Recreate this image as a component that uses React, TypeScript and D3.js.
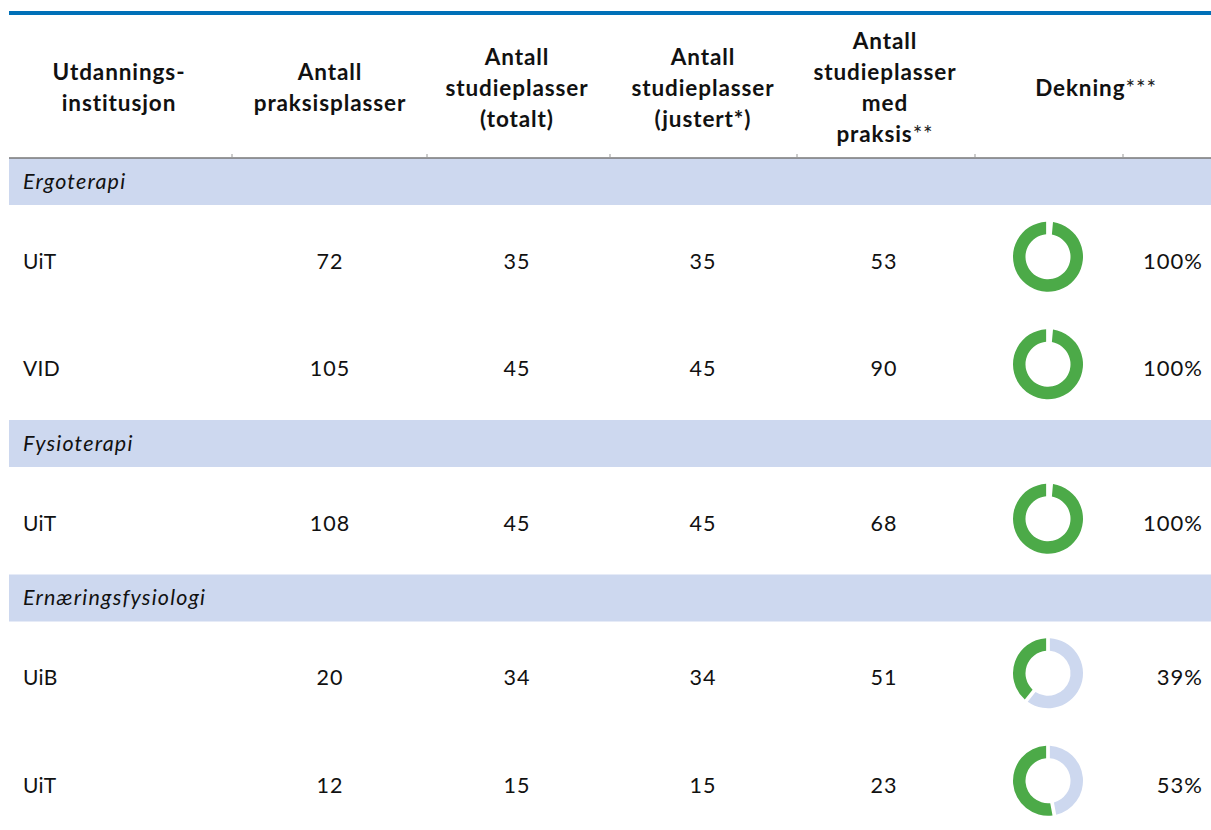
import React from "react";
import * as d3 from "d3";

// ---- data ----
const groups = ["Ergoterapi", "Fysioterapi", "Ernæringsfysiologi"];
const groupOf = [0, 0, 1, 2, 2];
const institutions = ["UiT", "VID", "UiT", "UiB", "UiT"];
const praksisplasser = [72, 105, 108, 20, 12];
const studieTotalt = [35, 45, 45, 34, 15];
const studieJustert = [35, 45, 45, 34, 15];
const studieMedPraksis = [53, 90, 68, 51, 23];
const dekning = [100, 100, 100, 39, 53];

const headers: { lines: string[]; star?: string }[] = [
  { lines: ["Utdannings-", "institusjon"] },
  { lines: ["Antall", "praksisplasser"] },
  { lines: ["Antall", "studieplasser", "(totalt)"] },
  { lines: ["Antall", "studieplasser", "(justert*)"] },
  { lines: ["Antall", "studieplasser", "med", "praksis"], star: "**" },
  { lines: ["Dekning"], star: "***" },
];

const W = 1211;
const H = 830;
const FONT = "Lato, 'Noto Sans', sans-serif";
const GREEN = "#4caa48";
const LIGHT = "#cdd8ef";
const BAND = "#cdd8ef";
const BLUE = "#0070b8";

const headerCenters = [119, 330, 517, 703, 885, 1096];
const valueCenters = [330, 517, 703, 884];
const tickXs = [232, 427, 610, 797, 975, 1123];
const headerTop = 15;
const headerBottom = 158;
const bandH = 47;
const rowH = 107.5;
const tableLeft = 9;

type Row = { kind: "band"; label: string; y: number; h: number } | { kind: "data"; i: number; y: number; h: number };

function buildRows(): Row[] {
  const rows: Row[] = [];
  let y = headerBottom;
  let last = -1;
  institutions.forEach((_, i) => {
    if (groupOf[i] !== last) {
      last = groupOf[i];
      rows.push({ kind: "band", label: groups[last], y, h: bandH });
      y += bandH;
    }
    rows.push({ kind: "data", i, y, h: rowH });
    y += rowH;
  });
  return rows;
}

export default function App() {
  const rows = buildRows();
  const pie = d3
    .pie<number>()
    .sort(null)
    .value((d) => d)
    .padAngle(0.09);
  const arc = d3.arc<d3.PieArcDatum<number>>().innerRadius(22.5).outerRadius(35);
  const headerMid = (headerTop + headerBottom) / 2 + 1;
  const lineGap = 31;

  return (
    <div style={{ position: "absolute", left: 0, top: 0 }}>
      <svg width={W} height={H} style={{ display: "block", fontFamily: FONT }}>
        <rect x={0} y={0} width={W} height={H} fill="#fff" />
        <rect x={tableLeft} y={11} width={W - tableLeft} height={4} fill={BLUE} />
        {/* header */}
        {headers.map((h, c) => {
          const n = h.lines.length;
          const y0 = headerMid - ((n - 1) * lineGap) / 2 + 8;
          return (
            <text key={c} textAnchor="middle" fontSize={22.5} fontWeight={700} fill="#111" letterSpacing={0.9}>
              {h.lines.map((l, k) => (
                <tspan key={k} x={headerCenters[c]} y={y0 + k * lineGap}>
                  {l}
                  {k === n - 1 && h.star ? (
                    <tspan fontWeight={400} fill="#222">
                      {h.star}
                    </tspan>
                  ) : null}
                </tspan>
              ))}
            </text>
          );
        })}
        {/* rows */}
        {rows.map((r, k) => {
          if (r.kind === "band") {
            return (
              <g key={k}>
                <rect x={tableLeft} y={r.y} width={W - tableLeft} height={r.h} fill={BAND} />
                <text x={23} y={r.y + r.h / 2 + 7} fontSize={21.5} fontStyle="italic" fill="#111" letterSpacing={1.2}>
                  {r.label}
                </text>
              </g>
            );
          }
          const i = r.i;
          const cy = r.y + r.h / 2;
          const vals = [praksisplasser[i], studieTotalt[i], studieJustert[i], studieMedPraksis[i]];
          const arcs = pie([100 - dekning[i], dekning[i]]);
          return (
            <g key={k}>
              <text x={23} y={cy + 10} fontSize={21} fill="#111" letterSpacing={0.3}>
                {institutions[i]}
              </text>
              {vals.map((v, j) => (
                <text key={j} x={valueCenters[j]} y={cy + 10} fontSize={21.5} fill="#111" textAnchor="middle" letterSpacing={1}>
                  {v}
                </text>
              ))}
              <g transform={`translate(1048,${cy - 2})`}>
                {arcs.map((a, j) =>
                  a.data > 0 ? <path key={j} d={arc(a) || ""} fill={j === 1 ? GREEN : LIGHT} /> : null
                )}
              </g>
              <text x={1203} y={cy + 10} fontSize={22} fill="#111" textAnchor="end" letterSpacing={1}>
                {dekning[i]}%
              </text>
            </g>
          );
        })}
        {/* header bottom rule */}
        <line x1={tableLeft} x2={W} y1={headerBottom} y2={headerBottom} stroke="#777" strokeWidth={1.5} />
        {tickXs.map((x) => (
          <line key={x} x1={x} x2={x} y1={headerBottom - 4} y2={headerBottom} stroke="#999" strokeWidth={1} />
        ))}
      </svg>
    </div>
  );
}
